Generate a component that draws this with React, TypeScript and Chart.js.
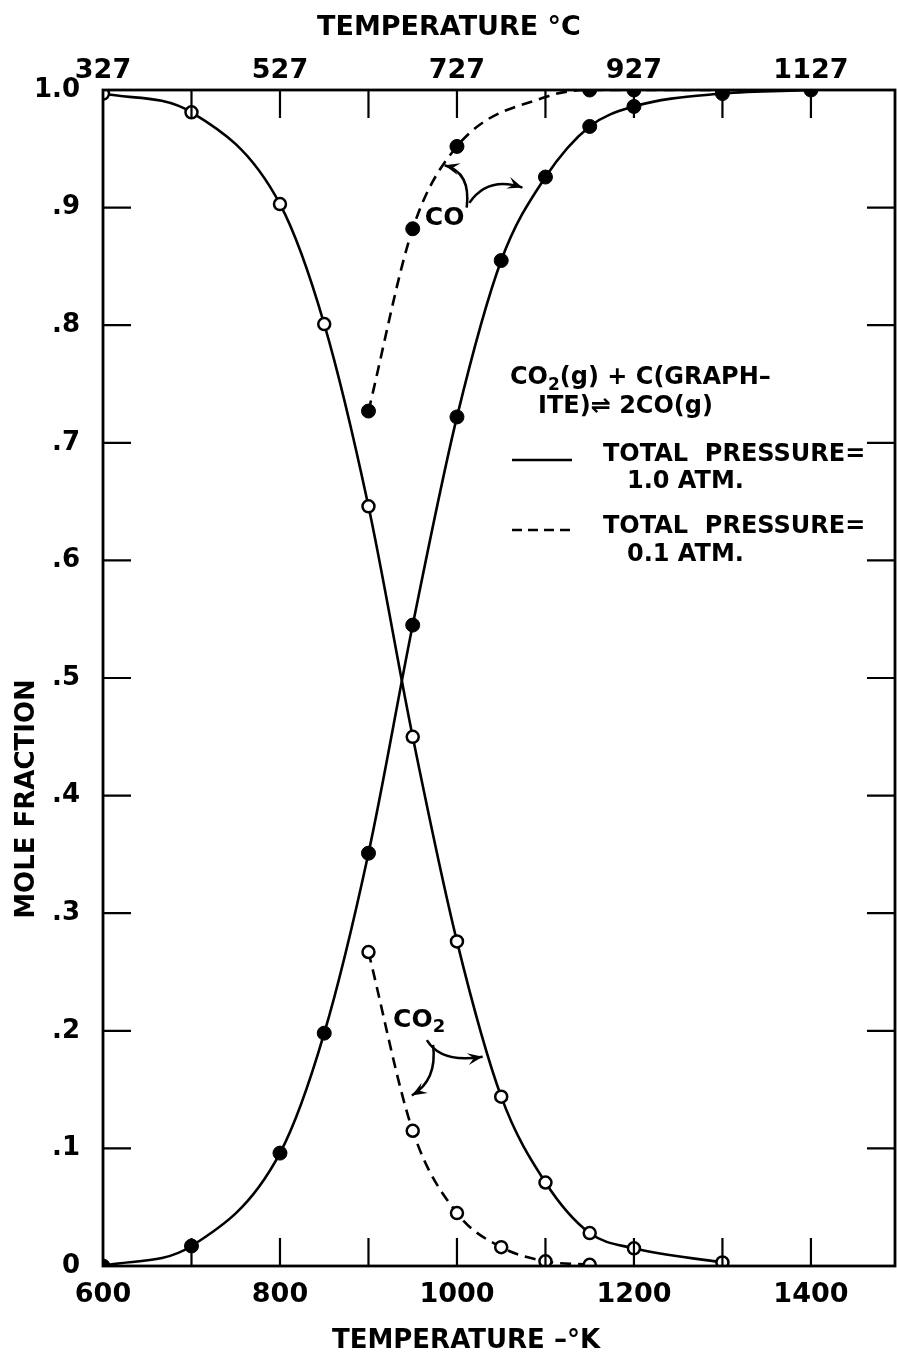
import React, { useEffect, useRef } from 'react';
import { Chart, registerables } from 'chart.js';
Chart.register(...registerables);

// ---- data ----
const coTemps1 = [600, 700, 800, 850, 900, 950, 1000, 1050, 1100, 1150, 1200, 1300, 1400];
const coValues1 = [0.0, 0.017, 0.096, 0.198, 0.351, 0.545, 0.722, 0.855, 0.926, 0.969, 0.986, 0.997, 1.0];
const co2Temps1 = [600, 700, 800, 850, 900, 950, 1000, 1050, 1100, 1150, 1200, 1300];
const co2Values1 = [0.997, 0.981, 0.903, 0.801, 0.646, 0.45, 0.276, 0.144, 0.071, 0.028, 0.015, 0.003];
const coTemps01 = [900, 950, 1000, 1100, 1150, 1200, 1300];
const coValues01 = [0.727, 0.882, 0.952, 0.994, 1.0, 1.0, 1.0];
const co2Temps01 = [900, 950, 1000, 1050, 1100, 1150];
const co2Values01 = [0.267, 0.115, 0.045, 0.016, 0.004, 0.001];

const xTickValues = [600, 700, 800, 900, 1000, 1100, 1200, 1300, 1400];
const bottomTickLabels = [600, 800, 1000, 1200, 1400];
const topTickLabels = [327, 527, 727, 927, 1127];
const yTickValues = [0, 0.1, 0.2, 0.3, 0.4, 0.5, 0.6, 0.7, 0.8, 0.9, 1.0];
const yTickLabels = ['0', '.1', '.2', '.3', '.4', '.5', '.6', '.7', '.8', '.9', '1.0'];

const FONT = '"DejaVu Sans", sans-serif';
const X_MIN = 600;
const X_MAX = 1495;

const pts = (xs: number[], ys: number[]) => xs.map((x, i) => ({ x, y: ys[i] }));

function textRich(ctx: CanvasRenderingContext2D, parts: { t: string; sub?: boolean }[], x: number, y: number, size: number) {
  let cx = x;
  for (const p of parts) {
    if (p.sub) {
      ctx.font = `bold ${Math.round(size * 0.72)}px ${FONT}`;
      ctx.fillText(p.t, cx, y + size * 0.3);
    } else {
      ctx.font = `bold ${size}px ${FONT}`;
      ctx.fillText(p.t, cx, y);
    }
    cx += ctx.measureText(p.t).width;
  }
}

function curvedArrow(ctx: CanvasRenderingContext2D, x0: number, y0: number, cx: number, cy: number, x1: number, y1: number) {
  ctx.beginPath();
  ctx.moveTo(x0, y0);
  ctx.quadraticCurveTo(cx, cy, x1, y1);
  ctx.stroke();
  const ang = Math.atan2(y1 - cy, x1 - cx);
  const L = 15, W = 6;
  const c = Math.cos(ang), s = Math.sin(ang);
  ctx.beginPath();
  ctx.moveTo(x1, y1);
  ctx.lineTo(x1 - L * c - W * s, y1 - L * s + W * c);
  ctx.lineTo(x1 - L * 0.6 * c, y1 - L * 0.6 * s);
  ctx.lineTo(x1 - L * c + W * s, y1 - L * s - W * c);
  ctx.closePath();
  ctx.fill();
}

const decor = {
  id: 'decor',
  afterDatasetsDraw(chart: any) {
    const { ctx, chartArea: a, scales } = chart;
    const xs = scales.x, ys = scales.y;
    const X = (v: number) => xs.getPixelForValue(v);
    const Y = (v: number) => ys.getPixelForValue(v);
    ctx.save();
    ctx.strokeStyle = '#000';
    ctx.fillStyle = '#000';
    ctx.lineCap = 'butt';
    // frame
    ctx.lineWidth = 2.8;
    ctx.strokeRect(a.left, a.top, a.right - a.left, a.bottom - a.top);
    // inward ticks
    ctx.lineWidth = 2.2;
    const TL = 28;
    xs.ticks.forEach((t: any) => {
      const v = t.value;
      if (v <= xs.min || v >= xs.max) return;
      const px = X(v);
      ctx.beginPath();
      ctx.moveTo(px, a.bottom); ctx.lineTo(px, a.bottom - TL);
      ctx.moveTo(px, a.top); ctx.lineTo(px, a.top + TL);
      ctx.stroke();
    });
    ys.ticks.forEach((t: any) => {
      const v = t.value;
      if (v <= ys.min || v >= ys.max) return;
      const py = Y(v);
      ctx.beginPath();
      ctx.moveTo(a.left, py); ctx.lineTo(a.left + TL, py);
      ctx.moveTo(a.right, py); ctx.lineTo(a.right - TL, py);
      ctx.stroke();
    });

    // titles
    ctx.textBaseline = 'middle';
    ctx.textAlign = 'center';
    ctx.font = `bold 27px ${FONT}`;
    ctx.fillText('TEMPERATURE °C', 449, 28);
    ctx.font = `bold 26px ${FONT}`;
    ctx.fillText('TEMPERATURE –°K', 466, 1341);
    ctx.save();
    ctx.translate(27, 799);
    ctx.rotate(-Math.PI / 2);
    ctx.font = `bold 26px ${FONT}`;
    ctx.fillText('MOLE FRACTION', 0, 0);
    ctx.restore();

    // legend / reaction text
    ctx.textAlign = 'left';
    textRich(ctx, [{ t: 'CO' }, { t: '2', sub: true }, { t: '(g) + C(GRAPH–' }], 510, 378, 24);
    textRich(ctx, [{ t: 'ITE)⇌ 2CO(g)' }], 538, 407, 24);
    textRich(ctx, [{ t: 'TOTAL  PRESSURE=' }], 603, 455, 24);
    textRich(ctx, [{ t: '1.0 ATM.' }], 627, 482, 24);
    textRich(ctx, [{ t: 'TOTAL  PRESSURE=' }], 603, 527, 24);
    textRich(ctx, [{ t: '0.1 ATM.' }], 627, 555, 24);
    ctx.lineWidth = 2.5;
    ctx.beginPath(); ctx.moveTo(512, 460); ctx.lineTo(572, 460); ctx.stroke();
    ctx.setLineDash([10, 6]);
    ctx.beginPath(); ctx.moveTo(512, 530); ctx.lineTo(572, 530); ctx.stroke();
    ctx.setLineDash([]);

    // annotations
    ctx.textAlign = 'center';
    textRich(ctx, [{ t: 'CO' }], X(986), Y(0.891), 25);
    ctx.lineWidth = 2.5;
    curvedArrow(ctx, X(1011), Y(0.900), X(1016), Y(0.930), X(986), Y(0.936));
    curvedArrow(ctx, X(1014), Y(0.904), X(1035), Y(0.927), X(1074), Y(0.917));
    ctx.textAlign = 'left';
    textRich(ctx, [{ t: 'CO' }, { t: '2', sub: true }], X(956) - 25, Y(0.209), 25);
    curvedArrow(ctx, X(966), Y(0.192), X(982), Y(0.172), X(1029), Y(0.178));
    curvedArrow(ctx, X(973), Y(0.188), X(978), Y(0.158), X(949), Y(0.145));
    ctx.restore();
  },
};

export default function App() {
  const ref = useRef<HTMLCanvasElement>(null);
  useEffect(() => {
    document.body.style.margin = '0';
    const canvas = ref.current!;
    const open = { pointStyle: 'circle', pointRadius: 6, pointBackgroundColor: '#fff', pointBorderColor: '#000', pointBorderWidth: 2.5 };
    const filled = { pointStyle: 'circle', pointRadius: 7, pointBackgroundColor: '#000', pointBorderColor: '#000', pointBorderWidth: 1 };
    const setX = (s: any) => { s.ticks = xTickValues.map((value) => ({ value })); };
    const chart = new Chart(canvas, {
      type: 'line',
      data: {
        datasets: [
          { label: 'CO 1.0 atm', data: pts(coTemps1, coValues1), borderColor: '#000', borderWidth: 2.6, cubicInterpolationMode: 'monotone', ...filled } as any,
          { label: 'CO2 1.0 atm', data: pts(co2Temps1, co2Values1), borderColor: '#000', borderWidth: 2.6, cubicInterpolationMode: 'monotone', ...open } as any,
          {
            label: 'CO 0.1 atm', data: pts(coTemps01, coValues01), borderColor: '#000', borderWidth: 2.6, borderDash: [11, 7], cubicInterpolationMode: 'monotone', ...filled,
            pointRadius: (c: any) => (c.raw && c.raw.x === 1100 ? 0 : 7),
          } as any,
          { label: 'CO2 0.1 atm', data: pts(co2Temps01, co2Values01), borderColor: '#000', borderWidth: 2.6, borderDash: [11, 7], cubicInterpolationMode: 'monotone', ...open } as any,
        ],
      },
      options: {
        animation: false,
        responsive: false,
        devicePixelRatio: 1,
        layout: { autoPadding: false, padding: { left: 0, right: 2, top: 0, bottom: 0 } },
        plugins: { legend: { display: false }, tooltip: { enabled: false } },
        scales: {
          x: {
            type: 'linear', position: 'bottom', min: X_MIN, max: X_MAX,
            grid: { display: false, drawTicks: false }, border: { display: false },
            afterBuildTicks: setX,
            ticks: {
              autoSkip: false, maxRotation: 0, minRotation: 0, padding: 13, color: '#000',
              font: { family: FONT, size: 27, weight: 'bold' },
              callback: (v: any) => (bottomTickLabels.includes(Math.round(Number(v))) ? String(Math.round(Number(v))) : ''),
            },
            afterFit: (s: any) => { s.height = 93; s.paddingLeft = 0; s.paddingRight = 0; },
          },
          x2: {
            type: 'linear', position: 'top', min: X_MIN, max: X_MAX,
            grid: { display: false, drawTicks: false }, border: { display: false },
            afterBuildTicks: setX,
            ticks: {
              autoSkip: false, maxRotation: 0, minRotation: 0, padding: 3, color: '#000',
              font: { family: FONT, size: 27, weight: 'bold' },
              callback: (v: any) => {
                const c = Math.round(Number(v) - 273);
                return topTickLabels.includes(c) ? String(c) : '';
              },
            },
            afterFit: (s: any) => { s.height = 90; s.paddingLeft = 0; s.paddingRight = 0; },
          },
          y: {
            type: 'linear', position: 'left', min: 0, max: 1,
            grid: { display: false, drawTicks: false }, border: { display: false },
            afterBuildTicks: (s: any) => { s.ticks = yTickValues.map((value) => ({ value })); },
            ticks: {
              autoSkip: false, padding: 23, color: '#000',
              font: { family: FONT, size: 26, weight: 'bold' },
              callback: (v: any) => yTickLabels[Math.round(Number(v) * 10)] ?? '',
            },
            afterFit: (s: any) => { s.width = 103; s.paddingTop = 0; s.paddingBottom = 0; },
          },
        },
      } as any,
      plugins: [decor],
    });
    return () => chart.destroy();
  }, []);
  return (
    <div style={{ width: 897, height: 1359, background: '#fff' }}>
      <canvas ref={ref} width={897} height={1359} style={{ display: 'block' }} />
    </div>
  );
}
